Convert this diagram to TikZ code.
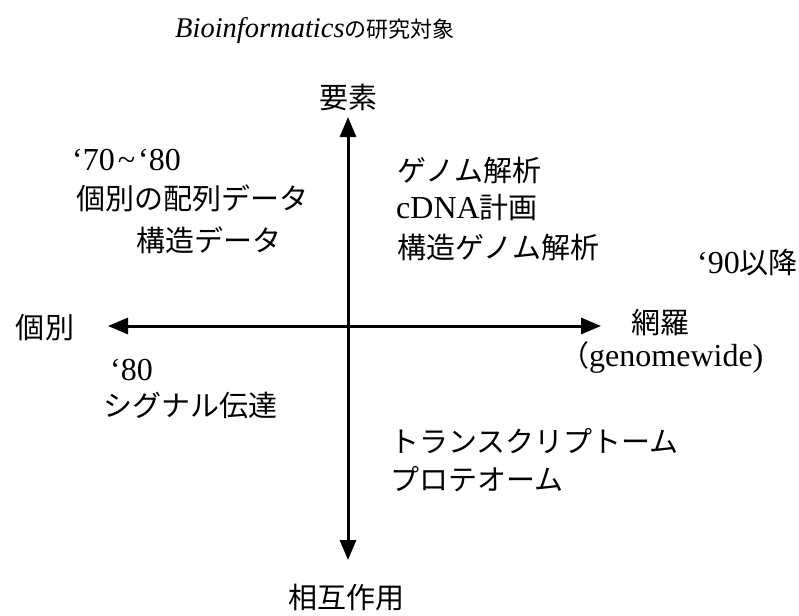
\documentclass[tikz,border=0pt]{standalone}
\usepackage{fontspec}
\setmainfont{Liberation Serif}
\newfontfamily\jpf{Noto Sans CJK JP}
\newcommand{\jp}{\jpf\fontsize{29}{32}\selectfont}
\newcommand{\jpt}{\jpf\fontsize{22}{26}\selectfont}
\usetikzlibrary{arrows.meta}
\tikzset{
  lbl/.style={inner sep=0pt, font=\fontsize{32}{34}\selectfont},
  ttl/.style={inner sep=0pt, font=\fontsize{28.5}{32}\selectfont},
  axis/.style={line width=3pt, -{Triangle[length=20pt,width=16pt]}},
}
\begin{document}
\begin{tikzpicture}[x=1pt,y=-1pt]
\useasboundingbox (0,0) rectangle (799,615);
\node[ttl, anchor=base west] (title) at (175,38) {\textit{Bioinformatics}{\jpt の研究対象}};
\coordinate (c) at (348,326);
\coordinate (top) at (348,117);
\coordinate (bot) at (348,560);
\coordinate (lft) at (108,326);
\coordinate (rgt) at (601,326);
\draw[axis] (c) -- (top);
\draw[axis] (c) -- (bot);
\draw[axis] (c) -- (lft);
\draw[axis] (c) -- (rgt);
\node[lbl] (yoso) at (348,97) {\jp 要素};
\node[lbl] (sogo) at (346,598) {\jp 相互作用};
\node[lbl] (kobetsu) at (45,328) {\jp 個別};
\node[lbl] (mora) at (660,323) {\jp 網羅};
\node[lbl, anchor=west] (gw) at (560,358) {{\jp （}genomewide)};
\node[lbl, anchor=west] (y7080) at (72,160) {‘70\kern3pt\textasciitilde\kern3pt‘80};
\node[lbl] (hairetsu) at (192,198) {\jp 個別の配列データ};
\node[lbl] (kozo) at (209,240) {\jp 構造データ};
\node[lbl, anchor=west] (genome) at (397,170) {\jp ゲノム解析};
\node[lbl, anchor=west] (cdna) at (396,208) {cDNA{\jp 計画}};
\node[lbl, anchor=west] (kozog) at (397,247) {\jp 構造ゲノム解析};
\node[lbl, anchor=east] (y90) at (798,263) {‘90{\jp 以降}};
\node[lbl, anchor=west] (y80) at (110,370) {‘80};
\node[lbl, anchor=west] (signal) at (103,405) {\jp シグナル伝達};
\node[lbl, anchor=west] (trans) at (390,441) {\jp トランスクリプトーム};
\node[lbl, anchor=west] (prot) at (390,479) {\jp プロテオーム};
\end{tikzpicture}
\end{document}
